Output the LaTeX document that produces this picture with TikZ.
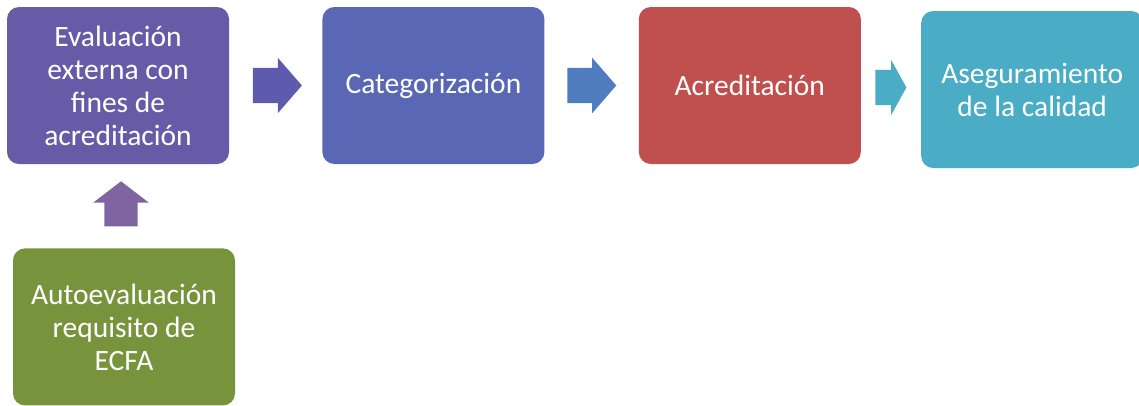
\documentclass[tikz,border=0pt]{standalone}
\usepackage{fontspec}
\setmainfont{Carlito}
\usepackage{tikz}
\usetikzlibrary{positioning,calc}
\usetikzlibrary{shapes.arrows}

\definecolor{evalcol}{RGB}{103,91,168}
\definecolor{catcol}{RGB}{90,103,180}
\definecolor{acrcol}{RGB}{192,80,77}
\definecolor{asegcol}{RGB}{75,172,198}
\definecolor{autocol}{RGB}{119,147,60}
\definecolor{arrowA}{RGB}{94,91,174}
\definecolor{arrowB}{RGB}{79,125,192}
\definecolor{arrowC}{RGB}{75,172,198}
\definecolor{arrowD}{RGB}{128,100,162}

\begin{document}
\begin{tikzpicture}[x=1pt,y=-1pt,
		box/.style={rectangle,rounded corners=12pt,minimum width=222pt,minimum height=157pt,
			inner sep=0pt,align=center,text=white,font=\fontsize{29.5}{33}\selectfont},
		block arrow/.style={single arrow,draw=none,inner xsep=0pt,inner ysep=17.5pt,
			minimum height=49pt,single arrow head extend=10pt,single arrow tip angle=98}]
		
		\useasboundingbox (0,0) rectangle (1139,405);
		
		\node[box,fill=evalcol] (eval) at (118,85.5) {Evaluación\\externa con\\fines de\\acreditación};
		\node[box,fill=catcol] (cat) [right=93pt of eval] {Categorización};
		\node[box,fill=acrcol] (acr) [right=94pt of cat] {Acreditación};
		\node[box,fill=asegcol] (aseg) [right=60pt of acr, yshift=-4pt] {Aseguramiento\\de la calidad};
		\node[box,fill=autocol] (auto) [below=84pt of eval, xshift=6pt] {Autoevaluación\\requisito de\\ECFA};
		
		\node[block arrow,fill=arrowA] (a1) at ($(eval.east)!0.5!(cat.west)$) [xshift=-6pt] {};
		\node[block arrow,fill=arrowB] (a2) at ($(cat.east)!0.5!(acr.west)$) [xshift=-7.5pt] {};
		\node[block arrow,fill=arrowC,minimum height=31pt,single arrow tip angle=122] (a3)
			at ($(acr.east)!0.5!(aseg.west)$) [xshift=-5pt] {};
		\node[block arrow,fill=arrowD,rotate=90,inner ysep=16.5pt,minimum height=45pt,
			single arrow head extend=11pt,single arrow tip angle=105] (a4)
			at ($($(eval.south)!0.5!(auto.north)$)+(0,4)$) {};
		
		\end{tikzpicture}
\end{document}
